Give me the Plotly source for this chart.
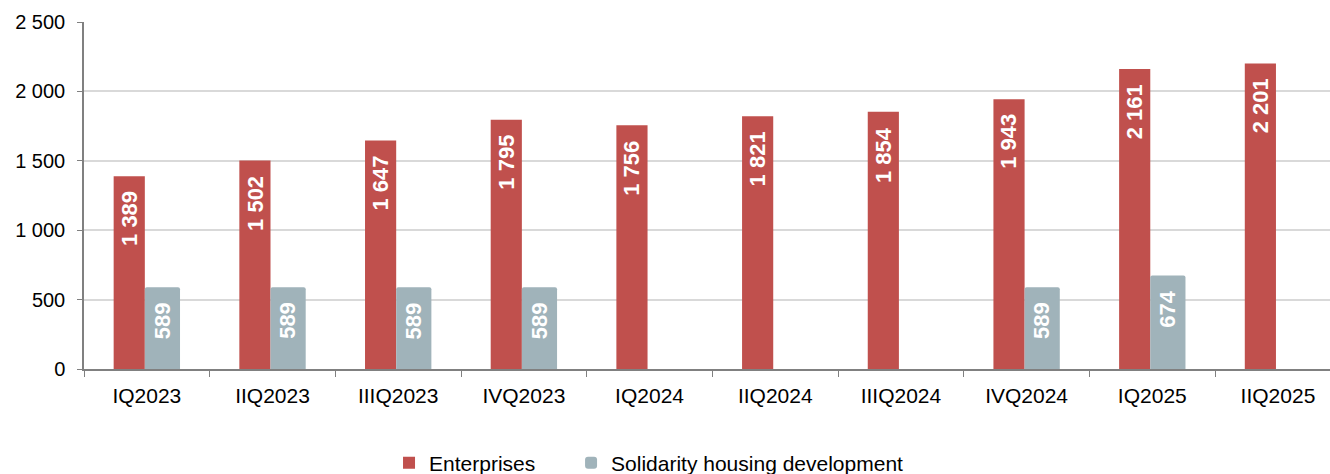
import plotly.graph_objects as go

categories = ["IQ2023", "IIQ2023", "IIIQ2023", "IVQ2023", "IQ2024",
              "IIQ2024", "IIIQ2024", "IVQ2024", "IQ2025", "IIQ2025"]
enterprises = [1389, 1502, 1647, 1795, 1756, 1821, 1854, 1943, 2161, 2201]
solidarity = [589, 589, 589, 589, None, None, None, 589, 674, None]
y_ticks = [0, 500, 1000, 1500, 2000, 2500]

RED = "#C0504D"
BLUE = "#A0B3BA"
FONT = "Liberation Sans, Arial, sans-serif"

RED_W, RED_OFF = 0.248, -0.264
BLUE_W, BLUE_OFF = 0.28, -0.016


def fmt(v):
    return f"{v:,}".replace(",", " ")


fig = go.Figure()
fig.add_trace(go.Bar(
    name="Enterprises", x=categories, y=enterprises,
    marker=dict(color=RED, line=dict(width=0)),
    width=RED_W, offset=RED_OFF, textposition="none", legend="legend",
))
fig.add_trace(go.Bar(
    name="Solidarity housing development", x=categories, y=solidarity,
    marker=dict(color=BLUE, line=dict(width=0), cornerradius=2),
    width=BLUE_W, offset=BLUE_OFF, textposition="none", legend="legend2",
))

annotations = []
for series, w, off in ((enterprises, RED_W, RED_OFF), (solidarity, BLUE_W, BLUE_OFF)):
    for i, v in enumerate(series):
        if v is None:
            continue
        annotations.append(dict(
            x=i + off + w / 2, y=v, xref="x", yref="y",
            text=fmt(v), textangle=-90, showarrow=False,
            xanchor="center", yanchor="top", yshift=-14,
            font=dict(color="white", size=22, family=FONT, weight="bold"),
            borderpad=0,
        ))

legend_common = dict(orientation="h", xanchor="left", y=-0.271, yanchor="middle",
                     font=dict(size=21), bgcolor="rgba(0,0,0,0)")

fig.update_layout(
    width=1330, height=474,
    margin=dict(l=84, r=0, t=22, b=105, autoexpand=False),
    paper_bgcolor="white", plot_bgcolor="white",
    separators=". ",
    font=dict(family=FONT, size=20, color="#000000"),
    barmode="group",
    showlegend=True,
    legend=dict(x=0.2448, **legend_common),
    legend2=dict(x=0.3909, **legend_common),
    annotations=annotations,
)
fig.update_xaxes(
    type="category", range=[-0.5, 9.414],
    showline=True, linecolor="#808080", linewidth=1.5,
    ticks="outside", tickson="boundaries", ticklen=6, tickcolor="#808080",
    showgrid=False, tickfont=dict(size=21), ticklabelstandoff=7,
)
fig.update_yaxes(
    range=[0, 2500], tickvals=y_ticks, tickformat=",",
    showline=True, linecolor="#808080", linewidth=1.5,
    ticks="outside", ticklen=5, tickcolor="#808080",
    showgrid=True, gridcolor="#D9D9D9", gridwidth=1.5,
    zeroline=False, tickfont=dict(size=20), ticklabelstandoff=8,
)

fig.write_html("out.html")
